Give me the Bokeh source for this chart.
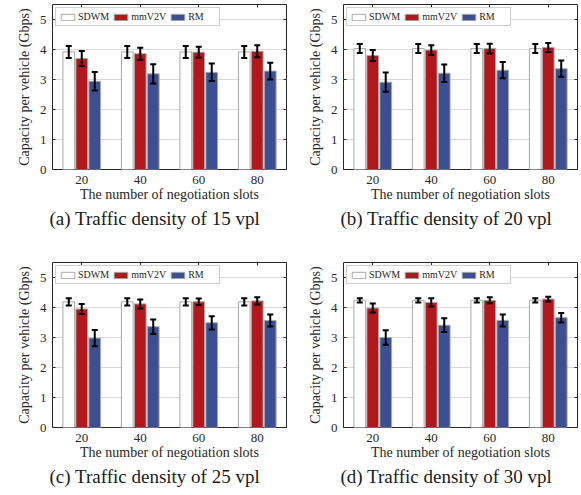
from bokeh.plotting import figure
from bokeh.models import (ColumnDataSource, FactorRange, Range1d, Whisker, TeeHead,
                          CategoricalAxis, LinearAxis, FixedTicker, Legend, LegendItem, Title)
from bokeh.transform import dodge
from bokeh.layouts import row, column
from bokeh.embed import file_html
from bokeh.resources import INLINE

# ---------------- data ----------------
slots = ["20", "40", "60", "80"]
densities = ["15", "20", "25", "30"]
panel_tags = ["a", "b", "c", "d"]
series_names = ["SDWM", "mmV2V", "RM"]

# one list per traffic density (15, 20, 25, 30 vpl), one value per slot count
sdwm_mean = [[3.92, 3.92, 3.92, 3.92],
             [4.03, 4.03, 4.03, 4.03],
             [4.19, 4.19, 4.19, 4.19],
             [4.24, 4.24, 4.24, 4.24]]
sdwm_err = [[0.20, 0.20, 0.20, 0.20],
            [0.15, 0.15, 0.15, 0.15],
            [0.12, 0.12, 0.12, 0.12],
            [0.07, 0.07, 0.07, 0.07]]
mmv2v_mean = [[3.70, 3.86, 3.91, 3.94],
              [3.80, 3.98, 4.03, 4.07],
              [3.95, 4.12, 4.19, 4.22],
              [3.98, 4.17, 4.24, 4.28]]
mmv2v_err = [[0.25, 0.20, 0.18, 0.20],
             [0.18, 0.16, 0.16, 0.15],
             [0.17, 0.15, 0.11, 0.12],
             [0.15, 0.14, 0.10, 0.08]]
rm_mean = [[2.94, 3.19, 3.24, 3.28],
           [2.91, 3.21, 3.31, 3.36],
           [2.98, 3.36, 3.49, 3.57],
           [3.00, 3.41, 3.57, 3.66]]
rm_err = [[0.31, 0.32, 0.29, 0.28],
          [0.32, 0.29, 0.27, 0.27],
          [0.27, 0.24, 0.22, 0.20],
          [0.24, 0.23, 0.20, 0.16]]

y_ticks = [0, 1, 2, 3, 4, 5]

# ---------------- style ----------------
FONT = "Liberation Serif"
fills = ["#ffffff", "#b2181b", "#3d4f91"]
bar_line = "#a8a8a8"
frame_col = "#262626"
offsets = [-0.222, 0.0, 0.222]
bar_w = 0.2


def make_panel(i, width, height, bl, br, bt, bb):
    p = figure(width=width, height=height, x_range=FactorRange(*slots, range_padding=0),
               y_range=Range1d(0, 5.5), output_backend="svg", toolbar_location=None,
               min_border_left=bl, min_border_right=br, min_border_top=bt,
               min_border_bottom=bb, background_fill_color="white",
               border_fill_color="white")
    p.outline_line_color = frame_col
    p.outline_line_width = 1
    p.xgrid.grid_line_color = None
    p.ygrid.grid_line_color = "#d9d9d9"
    p.ygrid.ticker = FixedTicker(ticks=y_ticks)

    means = [sdwm_mean[i], mmv2v_mean[i], rm_mean[i]]
    errs = [sdwm_err[i], mmv2v_err[i], rm_err[i]]
    items = []
    for k in range(3):
        src = ColumnDataSource(dict(
            slot=slots,
            top=means[k],
            upper=[m + e for m, e in zip(means[k], errs[k])],
            lower=[m - e for m, e in zip(means[k], errs[k])],
        ))
        r = p.vbar(x=dodge("slot", offsets[k], range=p.x_range), top="top", bottom=0,
                   width=bar_w, source=src, fill_color=fills[k], line_color=bar_line,
                   line_width=1)
        items.append(LegendItem(label=series_names[k], renderers=[r]))
        w = Whisker(source=src, base=dodge("slot", offsets[k], range=p.x_range),
                    upper="upper", lower="lower", line_color="black", line_width=2,
                    upper_head=TeeHead(size=6, line_width=2, line_color="black"),
                    lower_head=TeeHead(size=6, line_width=2, line_color="black"),
                    level="overlay")
        p.add_layout(w)

    # bottom axis
    xa = p.xaxis[0]
    xa.axis_line_color = None
    xa.major_tick_in = 0
    xa.major_tick_out = 0
    xa.major_label_standoff = 6
    xa.major_label_text_font = FONT
    xa.major_label_text_font_size = "13px"
    xa.major_label_text_color = "#262626"
    xa.axis_label = "The number of negotiation slots"
    xa.axis_label_text_font = FONT
    xa.axis_label_text_font_size = "14px"
    xa.axis_label_text_font_style = "normal"
    xa.axis_label_text_color = "#262626"
    xa.axis_label_standoff = 0

    # left axis
    ya = p.yaxis[0]
    ya.ticker = FixedTicker(ticks=y_ticks)
    ya.axis_line_color = None
    ya.major_tick_in = 3
    ya.major_tick_out = 0
    ya.major_tick_line_color = frame_col
    ya.minor_tick_line_color = None
    ya.major_label_standoff = 6
    ya.major_label_text_font = FONT
    ya.major_label_text_font_size = "13px"
    ya.major_label_text_color = "#262626"
    ya.axis_label = "Capacity per vehicle (Gbps)"
    ya.axis_label_text_font = FONT
    ya.axis_label_text_font_size = "14px"
    ya.axis_label_text_font_style = "normal"
    ya.axis_label_text_color = "#262626"
    ya.axis_label_standoff = 5

    # right axis: ticks only (labels not drawn)
    ra = LinearAxis(ticker=FixedTicker(ticks=y_ticks), axis_line_color=None,
                    major_tick_in=3, major_tick_out=0, minor_tick_line_color=None,
                    major_tick_line_color=frame_col,
                    major_label_text_font_size="1px", major_label_text_color=None,
                    major_label_standoff=0)
    p.add_layout(ra, "right")

    # top axis: ticks only (labels not drawn)
    ta = CategoricalAxis(axis_line_color=None, major_tick_in=3, major_tick_out=0,
                         major_tick_line_color=frame_col,
                         major_label_text_font_size="1px", major_label_text_color=None,
                         major_label_standoff=0)
    p.add_layout(ta, "above")

    legend = Legend(items=items, location="top_left", orientation="horizontal",
                    label_text_font=FONT, label_text_font_size="10px",
                    label_text_color="#262626",
                    glyph_width=17, glyph_height=8, label_height=8, label_width=28,
                    label_standoff=2, spacing=3, padding=3, margin=3,
                    border_line_color="#a0a0a0", border_line_width=1,
                    background_fill_color="white", background_fill_alpha=1)
    p.add_layout(legend)

    cap = Title(text="(%s) Traffic density of %s vpl" % (panel_tags[i], densities[i]),
                align="left", offset=-3, standoff=2, text_font=FONT,
                text_font_size="19px", text_font_style="normal", text_color="#1a1a1a")
    p.add_layout(cap, "below")
    return p


pa = make_panel(0, 299, 258, 52, 13, 4, 89)
pb = make_panel(1, 282, 258, 44, 4, 4, 89)
pc = make_panel(2, 299, 237, 52, 13, 4, 68)
pd = make_panel(3, 282, 237, 44, 4, 4, 68)

layout = column(row(pa, pb), row(pc, pd))

open("out.html", "w").write(file_html(layout, INLINE))
